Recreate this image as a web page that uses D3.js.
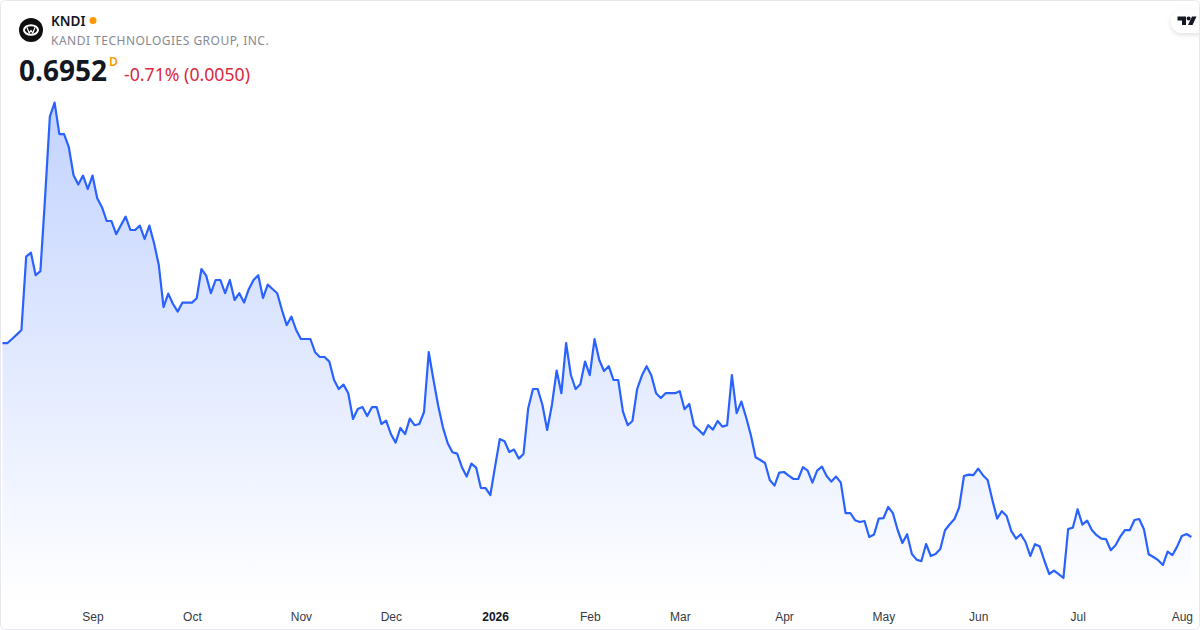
<!DOCTYPE html>
<html>
<head>
<meta charset="utf-8">
<script src="https://cdn.jsdelivr.net/npm/d3@7"></script>
<style>
  html, body { margin: 0; padding: 0; background: #fff; }
  svg { display: block; font-family: "Noto Sans", sans-serif; }
  .tick text { font-size: 12px; fill: #363a45; }
</style>
</head>
<body>
<svg width="1200" height="630"></svg>
<script>
const symbol = "KNDI";
const company = "KANDI TECHNOLOGIES GROUP, INC.";
const lastPrice = "0.6952";
const change = "-0.71% (0.0050)";

// daily closes
const closes = [
  1.664, 1.664, 1.685, 1.707, 1.73, 2.097, 2.117, 2.004, 2.024, 2.397,
  2.797, 2.867, 2.709, 2.709, 2.644, 2.504, 2.457, 2.502, 2.435, 2.502,
  2.389, 2.344, 2.275, 2.275, 2.209, 2.254, 2.297, 2.23, 2.23, 2.252,
  2.185, 2.252, 2.164, 2.055, 1.844, 1.912, 1.86, 1.822, 1.867, 1.867,
  1.867, 1.889, 2.035, 2.002, 1.914, 1.98, 1.98, 1.914, 1.98, 1.88,
  1.914, 1.867, 1.934, 1.98, 2.004, 1.89, 1.957, 1.935, 1.914, 1.83,
  1.754, 1.797, 1.73, 1.685, 1.685, 1.685, 1.619, 1.595, 1.595, 1.572,
  1.48, 1.435, 1.457, 1.414, 1.285, 1.335, 1.345, 1.30, 1.344, 1.345,
  1.26, 1.277, 1.21, 1.167, 1.24, 1.209, 1.287, 1.254, 1.26, 1.32,
  1.619, 1.48, 1.35, 1.242, 1.164, 1.119, 1.112, 1.044, 0.997, 1.062,
  1.042, 0.94, 0.939, 0.905, 1.047, 1.185, 1.174, 1.12, 1.132, 1.087,
  1.11, 1.339, 1.435, 1.435, 1.355, 1.23, 1.355, 1.527, 1.414, 1.664,
  1.505, 1.435, 1.459, 1.572, 1.504, 1.684, 1.58, 1.525, 1.549, 1.48,
  1.48, 1.322, 1.254, 1.275, 1.435, 1.502, 1.549, 1.502, 1.414, 1.39,
  1.414, 1.414, 1.414, 1.424, 1.334, 1.36, 1.252, 1.23, 1.207, 1.254,
  1.232, 1.275, 1.247, 1.254, 1.504, 1.314, 1.372, 1.294, 1.205, 1.094,
  1.08, 1.065, 0.98, 0.952, 1.017, 1.02, 1.002, 0.985, 0.985, 1.044,
  1.027, 0.967, 1.027, 1.047, 1.0, 0.972, 0.997, 0.967, 0.814, 0.815,
  0.779, 0.77, 0.775, 0.695, 0.707, 0.787, 0.789, 0.845, 0.814, 0.73,
  0.665, 0.709, 0.61, 0.582, 0.574, 0.66, 0.60, 0.61, 0.635, 0.729,
  0.759, 0.785, 0.844, 1.0, 1.007, 1.004, 1.037, 1.004, 0.98, 0.88,
  0.787, 0.824, 0.80, 0.724, 0.687, 0.709, 0.67, 0.60, 0.659, 0.647,
  0.575, 0.51, 0.527, 0.509, 0.49, 0.735, 0.742, 0.834, 0.757, 0.777,
  0.73, 0.704, 0.687, 0.684, 0.629, 0.654, 0.697, 0.73, 0.729, 0.78,
  0.785, 0.734, 0.609, 0.595, 0.579, 0.555, 0.622, 0.604, 0.647, 0.70,
  0.71, 0.6952
];

// tick labels and the bar index each one sits on
const tickLabels = ["Sep", "Oct", "Nov", "Dec", "2026", "Feb", "Mar", "Apr", "May", "Jun", "Jul", "Aug"];
const tickBars = [19, 40, 63, 82, 104, 124, 143, 165, 186, 206, 227, 249];

const svg = d3.select("svg");
const width = +svg.attr("width");
const height = +svg.attr("height");

const x = d3.scaleLinear().domain([0, closes.length - 1]).range([2.5, 1191.3]);
const y = d3.scaleLinear().domain([0.5, 3]).range([576, 76]);
const floor = 604;

// gradient under the line
const defs = svg.append("defs");
const grad = defs.append("linearGradient")
  .attr("id", "fade")
  .attr("gradientUnits", "userSpaceOnUse")
  .attr("x1", 0).attr("x2", 0)
  .attr("y1", y(d3.max(closes))).attr("y2", floor);
grad.append("stop").attr("offset", 0).attr("stop-color", "#2962ff").attr("stop-opacity", 0.28);
grad.append("stop").attr("offset", 1).attr("stop-color", "#2962ff").attr("stop-opacity", 0);

const shadow = defs.append("filter").attr("id", "pill")
  .attr("x", "-30%").attr("y", "-30%").attr("width", "160%").attr("height", "180%");
shadow.append("feDropShadow")
  .attr("dx", 0).attr("dy", 2).attr("stdDeviation", 2.5)
  .attr("flood-color", "#000").attr("flood-opacity", 0.12);

svg.append("path")
  .datum(closes)
  .attr("fill", "url(#fade)")
  .attr("d", d3.area().x((d, i) => x(i)).y0(floor).y1(d => y(d)));

svg.append("path")
  .datum(closes)
  .attr("fill", "none")
  .attr("stroke", "#2962ff")
  .attr("stroke-width", 2.2)
  .attr("stroke-linejoin", "round")
  .attr("d", d3.line().x((d, i) => x(i)).y(d => y(d)));

// time axis
const axis = d3.axisBottom(x)
  .tickValues(tickBars)
  .tickSize(0)
  .tickPadding(0)
  .tickFormat((d, i) => tickLabels[i]);

const axisG = svg.append("g")
  .attr("transform", "translate(0,610)")
  .call(axis);
axisG.select(".domain").remove();
axisG.selectAll(".tick text")
  .attr("dy", "0.95em")
  .style("font-weight", (d, i) => tickLabels[i] === "2026" ? 700 : 400)
  .style("fill", (d, i) => tickLabels[i] === "2026" ? "#131722" : "#363a45");

// header
const logo = svg.append("g").attr("transform", "translate(31,30)");
logo.append("circle").attr("r", 12).attr("fill", "#0f0f0f");
logo.append("ellipse").attr("rx", 7).attr("ry", 4.8).attr("fill", "none").attr("stroke", "#fff").attr("stroke-width", 2);
logo.append("path").attr("d", "M-4,-2.5 L-1.8,3 L0,0.5 L1.8,3 L4,-2.5").attr("fill", "none").attr("stroke", "#fff").attr("stroke-width", 1.2);

svg.append("text").attr("x", 51).attr("y", 26)
  .attr("font-size", 13.6).attr("font-weight", 600).attr("fill", "#131722").text(symbol);
svg.append("circle").attr("cx", 93).attr("cy", 20.5).attr("r", 3.5).attr("fill", "#ff9800");
svg.append("text").attr("x", 51).attr("y", 45)
  .attr("font-size", 12).attr("letter-spacing", 0.49).attr("fill", "#868993").text(company);

svg.append("text").attr("x", 19).attr("y", 81)
  .attr("font-size", 28).attr("font-weight", 700).attr("fill", "#131722").text(lastPrice);
svg.append("text").attr("x", 109).attr("y", 66)
  .attr("font-size", 12).attr("font-weight", 600).attr("fill", "#ff9800").text("D");
svg.append("text").attr("x", 124).attr("y", 81)
  .attr("font-size", 17.7).attr("fill", "#d9293e").text(change);

// tradingview badge in the corner
const badge = svg.append("g");
badge.append("rect")
  .attr("x", 1171).attr("y", 10).attr("width", 50).attr("height", 23).attr("rx", 11.5)
  .attr("fill", "#fff").attr("filter", "url(#pill)");
badge.append("path")
  .attr("d", "M1177.5,16.5h8.5v8.5h-4v-4.5h-4.5z")
  .attr("fill", "#131722");
badge.append("circle").attr("cx", 1188.6).attr("cy", 18.6).attr("r", 2).attr("fill", "#131722");
badge.append("path")
  .attr("d", "M1192,16.5h4.5l-4,8.5h-4.5z")
  .attr("fill", "#131722");

// frame
svg.append("rect")
  .attr("x", 0.5).attr("y", 0.5)
  .attr("width", width - 1).attr("height", height - 1)
  .attr("rx", 5)
  .attr("fill", "none")
  .attr("stroke", "#e6e8ee");
</script>
</body>
</html>
